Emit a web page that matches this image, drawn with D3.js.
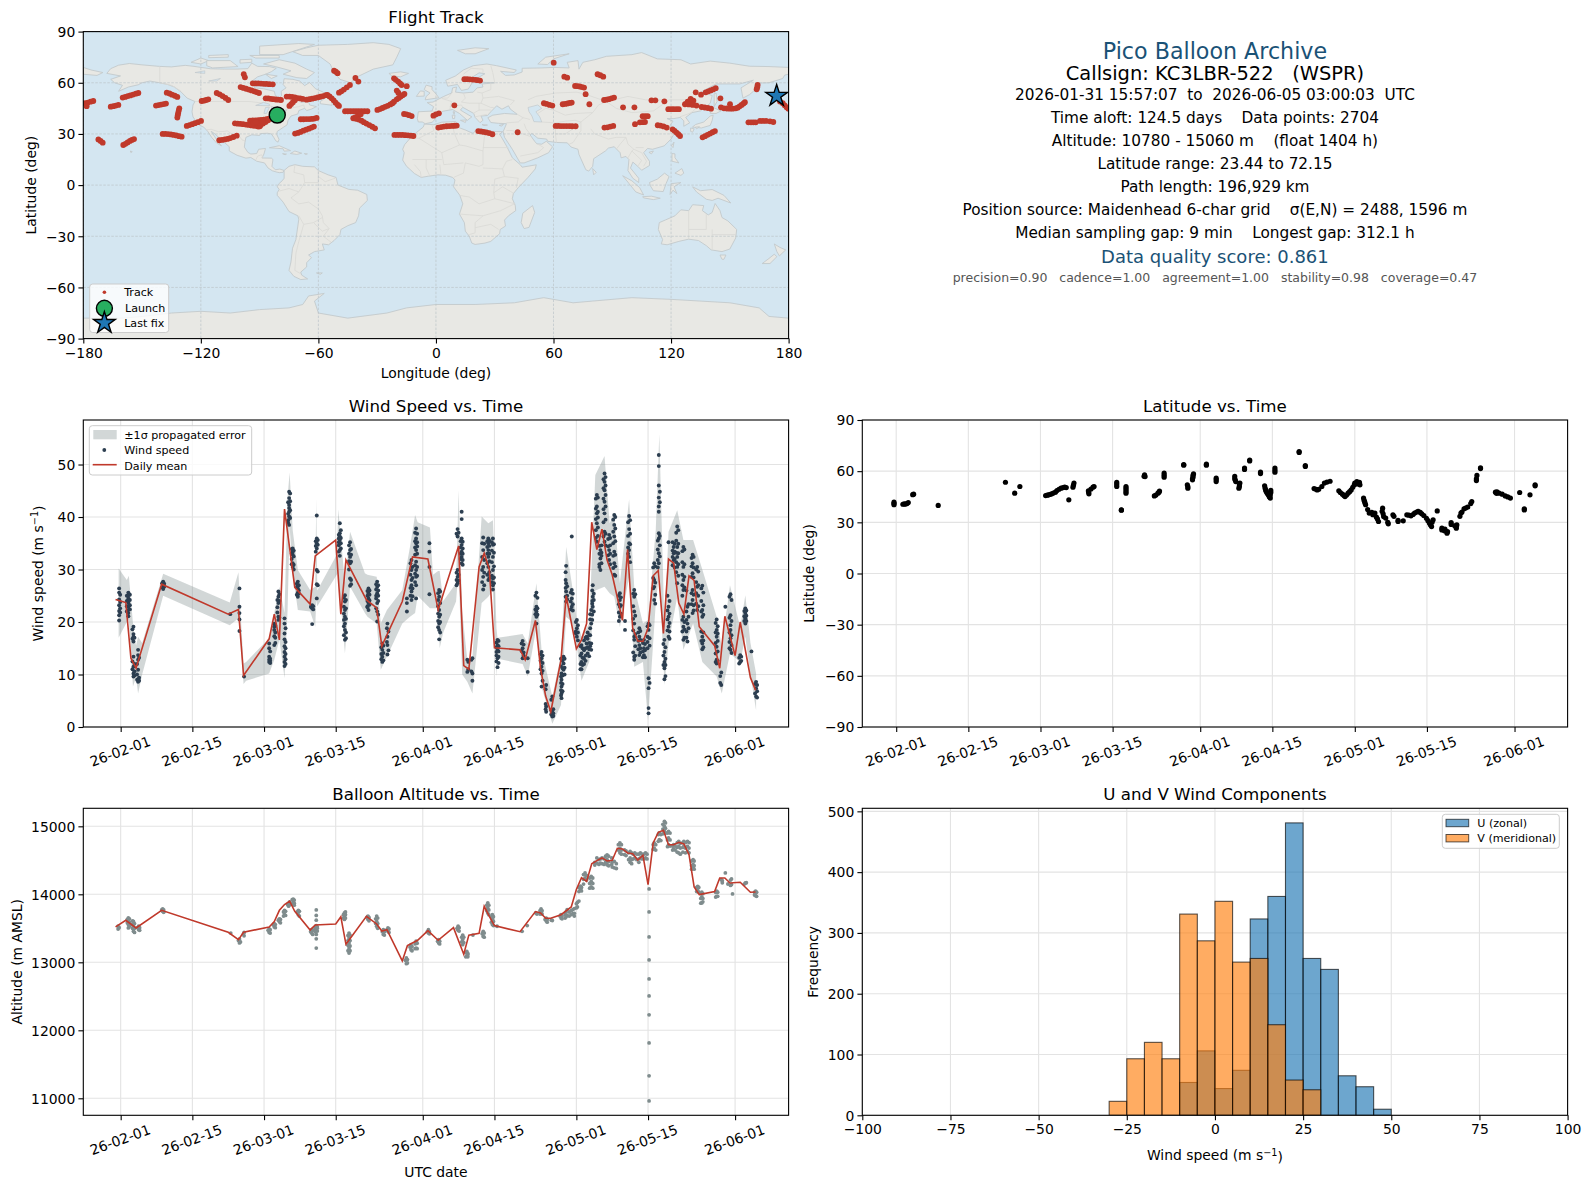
<!DOCTYPE html>
<html>
<head>
<meta charset="utf-8">
<title>Pico Balloon Archive</title>
<script src="https://cdn.jsdelivr.net/npm/d3@7"></script>
<style>
	body { margin: 0; background: #fff; }
	text { font-family: "DejaVu Sans", sans-serif; fill: #000; white-space: pre; }
</style>
</head>
<body>
<svg id="chart" width="1590" height="1189"></svg>
<script>
// Day offsets below are days since 2026-02-01 UTC
var dateTicks = ["2026-02-01","2026-02-15","2026-03-01","2026-03-15","2026-04-01","2026-04-15","2026-05-01","2026-05-15","2026-06-01"];

// Summary text on the top right
var summaryLines = [
	"2026-01-31 15:57:07  to  2026-06-05 03:00:03  UTC",
	"Time aloft: 124.5 days    Data points: 2704",
	"Altitude: 10780 - 15060 m    (float 1404 h)",
	"Latitude range: 23.44 to 72.15",
	"Path length: 196,929 km",
	"Position source: Maidenhead 6-char grid    \u03c3(E,N) = 2488, 1596 m",
	"Median sampling gap: 9 min    Longest gap: 312.1 h"
];

// Flight track as [lon, lat]
var launchFix = [-81, 41.1];
var lastFix = [173.9, 52.3];
var trackPoints = [
	[-179.1,48],[-177.7,48.4],[-176.3,48.9],[-174.9,49.3],[-178.3,46.3],
	[-166,46],[-164.7,46.3],[-163.4,46.6],[-162.1,47],
	[-159.9,51.3],[-158.6,51.7],[-157.3,52.2],[-156,52.6],[-154.6,53.1],[-153.2,53.6],[-151.9,54],
	[-142.9,46.6],[-141.6,46.9],[-140.3,47.2],[-139,47.5],[-137.8,47.8],
	[-137.4,54.2],[-136,53.7],[-134.7,53],[-133.3,52.4],[-132,51.7],
	[-131,45],[-131.3,43.6],[-131.6,42.2],[-131.8,40.9],[-132,39.6],
	[-127.2,34.7],[-125.8,35.2],[-124.4,35.7],[-123,36.3],[-121.5,36.9],[-119.9,37.6],
	[-119.6,49.3],[-118.5,49.5],[-117.3,49.9],[-116.2,50.3],
	[-111.9,54],[-110.4,53.2],[-108.9,52.2],[-107.4,51.1],[-106,49.9],
	[-139.5,30],[-138.1,30],[-136.7,29.9],[-135.3,29.7],[-133.9,29.4],[-132.5,29.1],[-131.1,28.7],[-129.8,28.4],
	[-172.3,26.8],[-171.2,25.9],[-170.1,24.9],
	[-159.6,23.5],[-158.5,24.2],[-157.4,25],[-156.2,25.9],[-155.2,26.5],[-154.1,27],
	[-110.6,26.3],[-109.2,26.5],[-107.8,26.8],[-106.4,27.1],[-105,27.6],[-103.4,28.2],[-101.7,29],
	[-102.6,36.2],[-101.2,36],[-99.8,35.9],[-98.4,35.7],[-97,35.5],[-95.6,35.3],[-94.2,35],[-92.8,34.8],[-91.3,34.6],[-89.9,34.5],
	[-94.9,37.8],[-93.5,37.9],[-92.1,38],[-90.7,38.1],[-89.3,38.2],[-87.9,38.4],[-86.5,38.6],[-85.2,38.9],[-83.9,39.2],
	[-90.7,34.3],[-89.5,35.2],[-88.3,36.1],[-87,37],[-85.7,38],[-84.4,39.2],[-93,36.5],[-91.5,36.6],[-90,36.5],[-88.5,37],[-92,37],
	[-99.7,57.5],[-98.3,57],[-96.9,56.5],[-95.5,56],[-94.1,55.5],[-92.7,55],[-91.5,54.5],[-90.3,54],
	[-93.5,59.7],[-92.1,59.6],[-90.7,59.6],[-89.3,59.5],[-87.9,59.4],[-86.5,59.3],[-85,59.2],[-83.3,59.1],
	[-86.9,50.9],[-85.6,50.8],[-84.3,50.6],[-83,50.4],[-81.7,50.2],[-80.4,50.1],[-79.1,49.9],
	[-98.1,65],[-97.5,63.2],
	[-76.2,51.9],[-74.8,51.9],[-73.4,51.7],[-72,51.4],[-70.6,51],[-69.3,50.8],[-68,50.5],
	[-74.8,46.4],[-73.9,47.5],[-73,48.6],[-72,49.8],
	[-66,50.1],[-64.6,50.4],[-63.2,50.7],[-61.8,51],[-60.4,51.4],[-59,51.8],[-57.6,52.2],[-56.2,52.7],[-55.4,52.9],[-54.3,52],[-53.2,50.9],[-52.2,49.7],[-51.2,48.3],[-50.2,47.1],[-49.5,46.4],
	[-52,67.1],[-51.1,66.5],[-50.2,65.6],
	[-49.5,54.2],[-48.3,55],[-47,56],[-45.5,57.3],[-43.9,58.7],
	[-41.1,62.8],[-39.6,60.7],
	[-21.4,62.6],[-20.5,61.7],[-19.3,60.7],[-18.3,59.6],[-17.5,58.7],
	[-14.9,58],[-20,55.4],[-19.2,54.2],
	[-20,50.3],[-19,51.1],[-18,51.9],[-17,52.7],[-16.1,53.4],
	[-29.9,44.1],[-28.6,44.6],[-27.3,45.2],[-26,45.9],[-24.7,46.5],[-23.3,47.3],[-22.2,48],[-21.4,48.9],
	[-46.4,43.3],[-45,43.3],[-43.6,43.3],[-42.2,43.3],[-40.8,43.3],[-39.4,43.3],[-38,43.3],[-36.5,43.3],[-35,43.3],
	[-42.2,39.2],[-41,39.8],[-39.8,40.6],[-38.4,41.6],
	[-40.8,38.9],[-39.4,38.4],[-38,37.8],[-36.8,36.9],[-35.5,36.1],[-34,35.2],[-32.5,34.2],[-31.1,33.3],
	[-69,38.6],[-67.6,38.6],[-66.2,38.7],[-64.8,38.7],[-63.4,38.8],[-62.1,39],[-60.9,39.4],
	[-71.9,30.2],[-70.5,30.6],[-69.1,31.2],[-67.7,31.9],[-66.3,32.5],[-64.9,33.1],[-63.5,33.7],[-62.3,34.3],
	[-21.2,29.4],[-19.8,29.4],[-18.4,29.4],[-17,29.4],[-15.6,29.3],[-14.2,29.2],[-12.8,29],[-11.5,28.8],
	[-16.3,41.7],[-15,41.5],[-13.7,41],[-12.4,40.5],
	[-1.3,40.7],[0,41.5],[1.5,42.1],
	[1.2,33.7],[2.6,34],[4,34.3],[5.4,34.5],[6.8,34.6],[8.2,34.7],[9.5,34.8],[10.6,34.9],
	[21.6,31.7],[23,31.5],[24.4,31.2],[25.8,30.9],[27.2,30.5],[28.8,29.8],
	[41.7,31],[9.4,46.8],
	[14.5,62.1],[15.9,62.1],[17.3,62],[18.7,61.9],[20.1,61.7],[21.3,61.5],[22.5,61.3],
	[60.1,71.8],[65.5,63.6],[67,63],
	[71,58.1],[72.2,58],[73.4,57.8],[74.6,57.5],[75.6,57.2],[76.4,53.3],
	[82.5,65],[83.9,64.4],[85.4,63.6],
	[55.1,48],[56.5,47.6],[58,47],[59.4,46.6],
	[64.7,47.4],[66,47.6],[67.2,47.9],[68.3,48.2],[69.3,48.4],[78.3,47.4],
	[85.8,49.9],[87,50.1],[88.2,50.4],[89.6,50.9],[90.9,51.3],
	[95.5,45.6],[101.3,45.6],[110,49.7],[112,49.7],[116.6,49.1],
	[61.1,34.7],[62.5,34.7],[63.9,34.6],[65.3,34.6],[66.7,34.6],[68.1,34.6],[69.5,34.5],[71.3,34.5],
	[86,33.7],[87.5,33.9],[89,34.3],[90.5,34.7],
	[101.6,35.7],[104.1,36.8],[105.4,36.9],[106.7,37],[105.5,40.4],[106.8,40.4],[108.1,40.4],
	[113.2,35.1],[114.6,34.9],[116.2,34.4],[117.8,33.7],
	[120.8,32.7],[121.8,31.8],[122.8,30.8],[123.7,29.8],[124.6,28.8],
	[118.6,44.5],[120,44.5],[121.3,44.5],[122.7,44.5],[124,44.5],
	[127.1,47.4],[128.2,48],[129.3,48.6],[130.4,49],[131.4,49.5],[129,47.3],[131,47],[133,46.6],[128.5,49],[130,50.5],
	[132.6,54.4],[135.3,53],
	[137.7,54.4],[139,55],[140.2,55.5],[141.5,56.1],[142.8,56.8],[145.2,50.9],
	[135.6,45.8],[137.2,45.5],[138.8,45.2],[140.4,44.8],
	[145.5,45.6],[147,45],[148.5,44.9],[150,44.8],[151.5,44.8],[153,45],[154,45.4],[155,46.2],[156,47],[157,47.9],[157.7,48.6],[150.1,47.4],
	[164.2,58.7],[164,57.4],[163.7,56.2],
	[136.1,28],[137.3,28.7],[138.6,29.5],[139.9,30.2],[141.2,31],[142.4,31.7],
	[159.5,36.8],[160.8,36.8],[162,36.8],[163.2,36.8],
	[165.4,37.6],[166.9,37.6],[168.5,37.6],[170.5,37.4],[172.2,37],
	[175.6,49],[177,48],[178,46.8],[179,45.6],[179.9,44.8]
];

// Simplified base map, [lon, lat] rings
var landRings = [
	[[-168,65.5],[-166,68.3],[-162,70.3],[-156.5,71.3],[-150,70.5],[-141,69.6],[-135,69.3],[-128,70.2],[-124,69.7],[-115,68.2],[-108,68],[-102,68],[-96,68.3],[-94,71.5],[-91,69.6],[-85,69.5],[-81.5,68.5],[-84,66.5],[-87,65],[-91,63.5],[-94.5,60.5],[-92.5,57],[-88,56.5],[-82.5,55],[-82,52.5],[-80,51.2],[-78.8,52.5],[-79,55],[-76.5,57],[-78,59],[-77.5,62.4],[-73,62],[-69.5,61],[-67,58.3],[-64.5,60.2],[-61.5,56.5],[-57.5,54.5],[-56,52],[-60,50.2],[-66,50.2],[-69,48.5],[-65,49],[-64.5,47],[-61,46],[-63.5,44.6],[-66,43.7],[-67,45],[-70,43.7],[-70.5,41.7],[-74,40.5],[-75.5,38],[-76,35.3],[-78,33.8],[-81,31.5],[-81.3,29.8],[-80.1,26.8],[-80.6,25.2],[-81.8,26],[-82.8,28],[-84,30],[-86,30.4],[-89.5,30.2],[-90,29.1],[-94,29.5],[-97,28],[-97.5,25],[-97.8,22.3],[-96,19.2],[-94.5,18.2],[-91.5,18.5],[-90.5,21],[-87,21.5],[-87.8,18.2],[-88.8,15.9],[-84,15.8],[-83.2,15],[-83.7,11],[-82,9],[-79.7,9.4],[-77.5,8.6],[-78,7.5],[-80,7.3],[-81.5,7.7],[-83.5,8.4],[-85.7,10],[-87.5,13],[-91.5,14],[-94.5,16.2],[-97,15.8],[-101.5,17.5],[-105.5,20],[-105.5,22.5],[-108,25],[-110,27],[-112.8,30],[-114.7,31.5],[-113,28.5],[-111,25],[-109.5,23],[-112,24.7],[-114.5,28],[-116.5,31.5],[-118.5,34],[-120.7,35],[-122.5,37.5],[-124,40],[-124.5,43],[-124,47],[-123,49],[-127,51],[-130,54.5],[-133.5,57.5],[-137,59],[-141,60],[-146,61],[-150,60],[-152,58.8],[-157,57.5],[-162,55],[-160,58.5],[-164,60],[-166,62],[-161,64]],
	[[-80,73.5],[-72,71.5],[-66,68],[-62,66],[-66,62.5],[-71,63],[-78,65],[-74,67],[-82,69.5],[-88,71]],
	[[-125,72],[-120,74.5],[-116,73],[-120,71]],
	[[-117,73],[-105,73],[-101,69.5],[-114,68.7],[-117,70]],
	[[-90,76.5],[-78,76.5],[-62,82.5],[-70,83],[-90,81.5]],
	[[-95,76],[-80,76],[-80,74.5],[-92,74.5]],
	[[-100,73.5],[-94,73.8],[-94,72],[-100,71.5]],
	[[-116,76],[-106,76.5],[-106,75],[-116,74.7]],
	[[-59,47.7],[-53,46.8],[-53,49],[-56,51.5],[-59,49]],
	[[-87,65],[-81,64],[-84,62.5]],
	[[-73,78.2],[-68,76],[-60,76],[-54,71],[-52,66],[-49,62],[-43.5,60],[-41,63],[-32,68],[-22,70.5],[-20,75],[-18,80],[-24,82.5],[-32,83.5],[-45,82.5],[-60,82],[-66,80.5]],
	[[-24,65.5],[-18,66.4],[-14,65.5],[-18,63.5],[-22.5,64]],
	[[-85,21.9],[-80,23.1],[-74.2,20.2],[-77.5,19.9],[-78,21.3]],
	[[-74.3,18.5],[-72,20],[-68.5,18.7],[-71,18]],
	[[-78.3,18.4],[-76.3,18.2],[-77,17.8]],
	[[-67.2,18.5],[-65.6,18.3],[-66.5,17.9]],
	[[-156,20],[-155,19.6],[-155.7,19]],
	[[-77.5,8.6],[-75,11],[-72,12],[-68,11],[-62,10.7],[-60,8.5],[-55,6],[-51,4.5],[-50,0],[-44.5,-2.5],[-40,-3],[-35.3,-5.5],[-35,-9],[-39,-13.5],[-39.5,-18],[-41,-22],[-45,-23.8],[-48.5,-26],[-49,-29],[-52,-32.5],[-54.8,-35],[-58,-34.5],[-57,-38],[-62,-39],[-65,-41],[-63.5,-42.5],[-66,-45.5],[-66,-48],[-69,-51],[-68.5,-52.8],[-65.5,-55],[-69,-55.4],[-72.5,-53.5],[-75,-50],[-74,-45],[-73.5,-40],[-73.2,-37],[-71.5,-32],[-71,-28],[-70,-20],[-70.5,-18],[-75,-15.5],[-78,-10],[-81,-6],[-81,-4.5],[-80,-2.5],[-81,-1],[-80,1],[-78.5,2.5],[-77.5,4],[-77.5,7]],
	[[-61,-51.5],[-58,-51.5],[-59,-52.3]],
	[[-5.9,35.8],[-1,35.4],[3,36.9],[10,37.3],[11,34],[15,32.3],[19,30.3],[20.5,32.7],[25,31.7],[31,31.4],[34,31.3],[32.5,29.8],[34,27],[36,23],[37.3,20],[39,16],[43,12],[44,10.5],[51.2,11.9],[50.7,9.5],[47,4.5],[42,-1.5],[39.5,-5],[39,-8],[40.5,-12],[40.7,-15],[37,-18],[35,-20.5],[35.5,-24],[32.8,-26],[32.5,-28.5],[28,-33],[25,-34],[20,-34.8],[18.3,-34],[17,-30],[15,-27],[14.5,-22],[12,-17],[13.7,-11],[12.2,-6],[9,-1],[9.7,3],[8.5,4.5],[5,5.8],[1,6],[-4,5.2],[-7.5,4.5],[-11,6.8],[-13.5,9.5],[-15,11],[-17,14.7],[-16.2,19],[-17,21],[-16,23.7],[-13,27.7],[-9.8,31],[-6.5,34]],
	[[49.3,-12],[50.4,-16],[47.5,-24.8],[45,-25.5],[43.5,-22],[44.3,-16.5]],
	[[-9,37],[-9.5,39],[-9,43],[-2,43.4],[-1.2,46],[-4.5,48.4],[-1.5,48.7],[1.5,50.5],[4,52],[8,54],[8.5,57],[10.5,57.5],[10,54.5],[14,54],[19,54.5],[21,57],[24,57.5],[23.5,59.3],[30,60],[25,60.2],[21.5,61],[21.5,63],[25,65.3],[22,65.8],[17.5,62.5],[18.5,60],[16.5,56.3],[13,55.5],[11,59],[6,58],[5,61.5],[10,64],[14,67.5],[19,70],[26,71],[31,70],[41,67.5],[40,66],[33,66.7],[35.5,64.3],[40,64.6],[44,66.3],[44,68.5],[54,68.7],[60,69],[68,68.7],[67,72],[72.5,73],[73,68],[75,72],[81,73.5],[87,75.5],[100,76.5],[105,77.7],[113,74],[125,73.5],[130,71],[140,72.7],[150,71.5],[160,69.7],[170,69.5],[180,69],[180,65],[178,64.5],[177,62.5],[170,60],[163,59.8],[163,56],[160,53],[156.7,51],[155.7,57],[162,61.5],[155,59.3],[143,59.3],[135.5,54.7],[141,52.5],[140,48],[135,43.5],[130.7,42.5],[127.5,39.7],[129.5,36.5],[126.5,34.5],[126.5,37.7],[124.7,39.7],[121.5,39],[118,39],[121,37.5],[119.5,35],[122,31],[120,27],[116.5,23],[110.5,21],[108,21.5],[106,19],[109,14],[109,11.5],[105,8.7],[103,11],[100.5,13.5],[99.3,10],[103.5,4],[103.5,1.5],[100.5,4],[98,8.5],[98.5,15],[97,16.8],[94.5,16],[94,19],[91,22.5],[88,21.7],[86.5,20],[80.5,15.5],[80,11],[78,8.2],[76.5,9],[73,18],[72.5,21],[69,22.3],[67,24.8],[61.5,25],[57,25.7],[56.5,27],[52,27.5],[49,30.3],[48,29.5],[50.5,25.5],[51.5,24.2],[54,24],[56.3,25.7],[59.5,22.5],[57.5,19],[52,16],[45,13],[43,13],[39,21],[35,28],[34.3,31.3],[36,36],[32,36.2],[28,36.7],[26.5,39.5],[29,41],[35,42],[41.5,41.5],[38,44.5],[37,46.5],[33.7,44.5],[31,46.5],[28,43],[26.3,40.8],[23,40.5],[24,38],[22.5,36.6],[20,39.7],[19.3,42],[13.7,45.6],[12.5,44],[18.3,40],[16,38],[12,42],[8.5,44.3],[3.5,43.3],[0.5,40.5],[-0.5,38.5],[-2,36.8],[-5.5,36],[-7,37]],
	[[-180,69],[-176,67.5],[-170,66],[-173,64.3],[-180,65]],
	[[-5.5,50],[1.5,51.2],[0,53.5],[-2,56],[-2,57.7],[-5,58.6],[-6,56],[-3,54],[-5,52]],
	[[-10,52],[-6,52.2],[-6,55],[-8,55.2]],
	[[12.5,38],[15.5,38.2],[15,36.7]],
	[[8.3,41],[9.7,41],[9.5,39],[8.5,39]],
	[[8.7,43],[9.5,43],[9.3,41.5]],
	[[23.5,35.5],[26.3,35.2],[24.5,34.9]],
	[[32.3,35],[34.5,35.6],[33.5,34.6]],
	[[11,79],[20,80.5],[27,80],[20,77],[15,77]],
	[[52,71],[56,75],[68,77],[60,74],[57,70.7]],
	[[130.9,34],[135.5,33.5],[140,35],[141,38],[141.5,41],[140,40.5],[136.7,37],[132.5,35.5]],
	[[140,42],[141.5,45.5],[145.5,43.5],[143,42]],
	[[130,33.5],[131.8,33],[131,31],[130,31.5]],
	[[132.5,34],[134.5,34.2],[133,33]],
	[[142,46],[143.5,49],[143,54],[142,53.5],[142,49]],
	[[120.2,23],[121.5,25.2],[121,22]],
	[[108.7,19.2],[111,20],[110,18.3]],
	[[120.5,18.5],[122,18.3],[122,16],[124,13],[120.5,14]],
	[[122,7],[125.5,9.7],[126.5,7],[125,5.7]],
	[[80,9.7],[81.8,7.5],[80.5,6]],
	[[95.3,5.5],[100,2.5],[104,-1.5],[106,-5.8],[102,-4],[98.5,1]],
	[[105.5,-6.8],[110,-6.5],[114.5,-7.7],[111,-8.5],[106,-7.5]],
	[[109,1.5],[113,3.5],[116.7,7],[119,5],[117.5,1],[116,-3.8],[111,-3.3],[109.5,-0.5]],
	[[119.5,-5.5],[120,0.8],[125,1.5],[121.5,-1],[123,-5],[121,-3]],
	[[131,-1],[135,-3.3],[141,-2.6],[147,-6],[150.5,-10.5],[144,-7.7],[141,-9],[138,-8.3],[133,-4]],
	[[114,-22],[113.5,-26],[115.7,-32],[115,-34.5],[118,-35],[124,-33],[129,-31.7],[134,-32.5],[138,-35.5],[140.5,-38],[146,-39],[150,-37.5],[153,-31],[153.5,-26],[149,-21],[146,-19],[145,-15],[142.5,-10.8],[141,-16],[139,-17.5],[136,-15],[136.7,-12],[131,-11.5],[129,-15],[125,-14.5],[122,-18],[117,-20.5]],
	[[145,-41],[148,-41],[147,-43.5],[146,-43.5]],
	[[172.7,-34.5],[175.5,-36.5],[178.5,-38],[175.3,-41.5],[174,-39]],
	[[172.7,-40.5],[174,-42],[170.5,-46],[166.5,-46],[170,-43]],
	[[-180,-90],[180,-90],[180,-78],[170,-77],[165,-72],[150,-69],[120,-67],[100,-66],[80,-68],[70,-69],[55,-66],[40,-69],[20,-70],[0,-70],[-15,-72],[-25,-75],[-45,-78],[-60,-75],[-62,-68],[-57,-63.5],[-65,-65],[-68,-70],[-75,-72],[-90,-73],[-105,-75],[-120,-74],[-135,-75],[-150,-77],[-160,-78],[-180,-78]]
];
var waterRings = [
	[[47,45.5],[52,47],[54,45],[51,43],[53,40],[54,37],[50,37.2],[49,40.5],[47.5,43]],
	[[-92,46.7],[-88,48.5],[-85,47.5],[-85,46.5]],
	[[-87.8,42],[-86.5,42],[-85,45.7],[-87,45.5]],
	[[-84,46],[-80,45],[-81.7,43],[-83.5,43.8]],
	[[-83.3,41.6],[-79,42.8],[-80,42.4]],
	[[-79.5,43.4],[-76.3,44],[-76.5,43.4]],
	[[-123,66],[-118,67],[-118,65.5]],
	[[-116,61],[-110,62.5],[-112,61]]
];
var borderLines = [
	[[-123,49],[-95,49],[-88,48],[-82.5,45.5],[-82.5,42.5],[-79,43],[-75,45],[-70,46],[-67.5,47],[-67,45]],
	[[-141,69.6],[-141,60]],[[-141,60],[-135,58.5],[-130,55]],
	[[-117,32.5],[-114.7,32.7],[-111,31.3],[-108,31.5],[-106.5,31.8],[-103,29],[-101,29.8],[-99,26.5],[-97.3,25.9]],
	[[-92,14.6],[-91,17],[-89,17.8],[-88.2,15.8]],
	[[-72,12],[-72.5,7.5],[-67.5,6],[-67,1.5],[-70,-4],[-74,-7.5],[-70,-11],[-65,-10],[-60,-14],[-58,-18],[-57.5,-22],[-54.5,-25.5],[-57.5,-30],[-53.5,-33.5]],
	[[-60,8.5],[-60,5],[-56.5,2],[-51.5,4]],[[-60,5],[-60,1.5],[-67,1.5]],
	[[-70,-18],[-67.5,-23],[-70,-33],[-71.5,-40],[-72,-50],[-69,-52]],
	[[-80,-3.5],[-75,-2],[-70,-4]],[[-67.5,-23],[-62.5,-22],[-58,-19]],[[-62.5,-22],[-58,-27],[-54.5,-25.5]],
	[[-13,27.7],[-8.7,27.5],[-1,32],[-2,35]],[[-8.7,27.5],[3,19],[12,23.5],[9.5,30],[8,37]],
	[[12,23.5],[15,23],[24,20],[25,31.7]],[[24,20],[24,12],[22,11],[15,13],[14,7],[9,4.5]],
	[[24,22],[37,22]],[[24,10],[34,9.5],[36,14],[39,15]],[[34,9.5],[35,5],[42,4],[41,-1.5]],
	[[35,5],[30,3.5],[29.5,-4.5],[34,-1],[39.5,-4.7]],[[29.5,-4.5],[30,-8],[40.5,-11]],
	[[12,-6],[17,-7],[22,-11],[30,-8]],[[12,-17],[24,-18],[33,-15],[40,-11]],
	[[24,-18],[20,-22],[20,-28],[17,-29]],[[20,-25],[28,-23],[32,-26]],
	[[3,19],[4,12],[14,13]],[[-12,15],[-5,15],[3,15]],[[-5,15],[-5,10],[-3,5]],[[2,12],[2.5,6.5]],[[-11,12],[-8,8],[-7.5,4.5]],
	[[-1.8,43.3],[3,42.5]],[[3,50.8],[8,49],[7,44]],[[7,46],[13,47],[13.7,45.6]],[[8.5,54.5],[6,51],[3,51]],
	[[14,54],[15,51],[13,48.7],[17,48],[23,48],[24,51],[23.5,54],[21,54.5]],[[23.5,54],[28,56],[28,59.5]],
	[[24,51],[32,52],[40,49.5],[38,47]],[[23,48],[28,45.5],[29.5,45.5]],[[22,44],[28,44]],[[19,42],[22,44],[22,48]],[[20,40],[26,41.5]],
	[[30,60],[29,66],[28,70]],[[14,65],[18,68.5],[24,68],[24,66]],
	[[36,36.5],[42,37],[44.5,39.5],[41.5,41.5]],[[44.5,39.5],[48,38.5]],[[45,36],[46,33],[48,30]],
	[[54,37],[61,36.5],[61,30],[61.5,25]],[[61,36.5],[66,37.5],[71,38],[74,37]],[[61,30],[66,30],[70,33],[74,37]],
	[[74,37],[74,32],[70,25],[68,24]],[[79,33],[81,30],[88,27],[92,28],[97,28],[94,24],[92,21]],
	[[97,28],[98,24],[101,21],[100,20],[98,16]],[[101,21],[105,19],[107.5,14],[106,11]],[[100,20],[105,14.5],[103,11]],[[106,22],[102,22]],
	[[87,49],[92,45],[100,42.5],[111,43.5],[116,47.5],[119,50],[127,50],[135,48],[131,43],[130,42.5]],
	[[87,49],[98,52],[107,50],[117,50]],[[47,50],[51,52],[61,54],[72,54.5],[77,53],[87,49]],
	[[52,42],[56,45],[60,44],[66,41],[71,42],[80,42.5],[83,47],[87,49]],[[74,37],[80,42.5]],
	[[36,32],[39,32],[47,29],[48,28.5]],[[43,17],[45,17.5],[52,19],[55,22],[52,24]],[[124.5,40],[130.5,42.5]],
	[[129,-15],[129,-31.7]],[[138,-17],[138,-26],[129,-26]],[[141,-26],[141,-38]],[[141,-29],[153,-29]]
];

// Wind speed columns as [day, [m/s ...]]
var windColumns = [
	[-0.3,[26.4,25.6,24.3,23.2,22.1,21.3,20.3]],
	[1.5,[25.6,25.1,24.5,24.1,23.6,22.9,22.3,21.7,21.1]],
	[2.5,[19.1,17.7,17.2,16.3,13.4,11.5,10.2,9.6]],
	[3.4,[14.7,13.7,12.8,10.9,9.1,8.6]],
	[8.3,[27.7,27,26.3]],
	[21.4,[21.5]],
	[23.2,[26.4,22.9,21.7,20.5,18.3]],
	[24.1,[9.6]],
	[29,[15.9,15,13.4,12.8,12.4]],
	[30,[19.7,19.1,18.5,17.3,15.6]],
	[30.8,[25.8,24.8,23.6,21,20.4]],
	[32,[20.7,19.7,17.8,16.7,15.4,14.3,13.4,12.4,11.6]],
	[32.9,[44.8,43.6,42.3,41.7,41,40.1,38.5]],
	[33.6,[34,33.4,32.8,31.2,30.5]],
	[34.6,[27.7,27,26.4,25.6,24.8]],
	[37.4,[23.2,22.6,19.6]],
	[38.3,[40.3,35.9,35,34,29.9,27.2,24.5]],
	[42.8,[38.8,36.9,36.3,35.6,33.7,32.6]],
	[43.8,[25.1,23.9,22.3,21,19.7,18.5,16.6]],
	[44.8,[35.2,33.7,32.4,31.2,28.3,26.9]],
	[48.4,[26.4,25.5,24.5,23.6,22.3]],
	[50.1,[27.7,26.7,25.5,23.6,22,20.1]],
	[51.1,[15.9,14.7,13.4,12.4]],
	[52.1,[19.7,17.2,15.6,13.8]],
	[55.9,[24.5,23.6,22]],
	[56.8,[31.8,29.9,28,27,25.8,24.2]],
	[57.7,[37.8,35.9,35,33.7,31.5,29.9,28.6,27,24.5]],
	[60.3,[35,33.4,30.5,25.3]],
	[62.2,[26.1,24.8,22.3,21,19.7,18.5,16.7]],
	[65.8,[37.7,36.3,29.9,28.6,27.4]],
	[66.6,[41,39.6,35.9,34.7,33.4,32.4,31.2]],
	[67.7,[12.8,10.5]],
	[68.7,[13.1,10.2,8.8]],
	[70.8,[36.1,33.7,30.5,28.6,26.2]],
	[71.8,[35.9,35,33.7,32.4,30.5,28]],
	[72.7,[35.9,34.7,32.4,29.9,28.3,27,26.2]],
	[73.6,[16.6,15.6,14.7,13.1,11.4]],
	[78.5,[16.4,15,13.1]],
	[79.5,[13.1,10.5]],
	[81.2,[25.6,22.9,22,21,19.7]],
	[82.2,[14.3,13.1,11.5,10.2,7.7]],
	[83.1,[8,3.9,2.9]],
	[84.3,[5.8,2.9,2]],
	[86.1,[10.2,9,7.7,6.4,5.5]],
	[86.5,[13.4,12.1,10.9]],
	[87,[30.7,27.4,25.8,23.9]],
	[88.1,[36.3,26.1,24.5,22.9]],
	[89.1,[20.4,18.8,17.2]],
	[90,[15.6,14,12.4,11]],
	[91,[17.2,15.9]],
	[91.9,[22.3,19.7,15.9,14.7]],
	[92.2,[27,24.8,22.9]],
	[93,[44.2,42,40.7,38.8,35.3]],
	[93.7,[33.7,32.1,29.9]],
	[94.5,[48.3,46.7,45.1,42.9,40.7,37.2,35.3]],
	[95.4,[36.6,33.7,31.8]],
	[96.4,[40.4,38.5,36.3,33.4,31.2,29]],
	[97.5,[25.5,24.2,22.9,21]],
	[98.5,[20.2,18.5]],
	[99.3,[40.2,37.7,35,33.7,32.4]],
	[100.3,[26.1,24.8,22,19.7,17.2,16.6,13.4,12.8]],
	[101.3,[18.8,17.2,15.6,13.7]],
	[102.2,[16.6,15,13.7]],
	[103.1,[19.7,18.5,9.3,7.4,3.6,2.6]],
	[104.2,[31.2,28,26.7,24.2]],
	[105.1,[51.8,49.7,46,43.7,42,41,36.9,35.9,33.1,31.2]],
	[106.2,[16.6,14.3,12.4,11.2,9.1]],
	[107,[35.2,22.9,21,19.1,17.2]],
	[108,[34.3,33.1,31.8]],
	[108.7,[38.2,34.3,32.4,30.5,27.4]],
	[109.9,[34.3,30.5,28,26.1,21,19.1,16.6]],
	[110.7,[22.9,19.7,16.3]],
	[111.7,[32.8,31.2,29.3,26.1,24.2,21.7]],
	[112.6,[30.5,26.7,22.3]],
	[113.6,[26.9,22.3,21,17.2,15.9,14.8]],
	[116.4,[20.5,18.5,17.2,15.3,12.8,12.1]],
	[117.3,[10.4,8]],
	[118.1,[22.9]],
	[119.1,[25.3,21.3,19.4,18.5,16.9,14.7]],
	[121,[13.7,12.4]],
	[122,[22.6,21.7,20.7,19.7]],
	[123.2,[14.4]],
	[124.1,[8.6,7.4,5.8]]
];
// Second pass over the crowded stretches
var windColumnsDense = [
	[-0.1,[25.2,23.8,22.6,21.8]],[1.2,[25,24,23,22]],[1.8,[25.2,24.2,23.2,22.4]],
	[2.3,[18.6,16.8,12.5,11]],[2.7,[17,12,10.6,9.8]],[3.2,[12,10,9]],[3.6,[9.4,8.8,13.2]],
	[8.1,[27.4,26.6]],[8.5,[27.3,26.7]],
	[29.2,[14.4,13,12.6,12.2]],[30.2,[19.3,18,17,16]],[30.6,[24.2,22.8,21.8]],[31,[25.3,24,20.8]],
	[32.2,[18.8,16.2,15,13.9,12.9,12]],[32.7,[42.8,40.6,39.4,38.9]],[33.1,[44.5,43,41.3,39.8]],
	[33.4,[33.9,33,32,31]],[33.8,[33.6,32.5,30.9,30]],[34.4,[27.3,26.6,25.2]],[34.8,[27,26,25.4]],
	[37.2,[23,22.8]],[37.6,[23,22.4]],[38.1,[35.4,34.5,33.4]],[38.5,[35.6,34.7,29.6,27]],
	[42.6,[36.6,35.9,35.2,34.6,33.4]],[43,[37.5,36,35,34]],[43.6,[24.6,22.9,21.6,20.4,19.2,17.5]],[44,[24.2,22.6,20.6,18,16.9]],
	[44.6,[34.6,33,31.6,30]],[45,[33.9,32.8,31.5,28,27.2]],
	[48.2,[25.9,25,24,23,22.8]],[48.6,[26,25.2,24.1,23.3]],[49.9,[27.2,26.2,25,24.5,22.6]],[50.3,[27,26,25,24,21.4]],
	[50.9,[15.2,13.9,12.9]],[51.3,[15.5,14.1,12.7]],[52,[18.8,16.2]],[52.3,[18.2,14.6]],
	[56.6,[31.2,29,26.5,25]],[57,[30.5,28.4,26.4,24.9]],[57.5,[37,35.4,34.2,32.8,30.8,29.2,27.6]],[57.9,[36.8,35.2,34.4,33,30.5,28.8]],
	[62,[25.5,24.2,23,21.6,20.2,19]],[62.4,[25.8,23.6,21.4,20,18]],
	[65.6,[36.8,29.4,28,27]],[66,[37,29,27.9]],[66.4,[35.4,34.2,33,32]],[66.8,[35.3,34,33,31.8,30.9]],
	[67.9,[12.4,11]],[68.5,[12.8,10.6]],
	[70.6,[35,32.4,29.9,27.6]],[71,[34.9,31.8,29.4,27]],[71.6,[35.4,34.3,33,31.2,29]],[72,[35.5,34.5,33,31.6,29.5,28.4]],[72.5,[35.2,33.6,31.4,28.8,27.6]],[72.9,[34.8,33.2,30.6,28.5,27.4]],
	[73.4,[16.1,15.2,14.3,13.6,12.5]],[73.8,[16.4,15.4,14.4,13.4,12.2]],
	[78.3,[15.9,14.5]],[78.7,[15.7,14.2,13.6]],[81,[25,22.4,21.5]],[81.4,[24.6,22.6,21.4]],
	[82,[13.8,12.6,11]],[82.4,[13.6,12.2,10.7,8.8]],[83,[7.2,4.4,3.4]],[84.1,[5.2,3.2,2.4]],[84.5,[3.4,2.6,2.1]],
	[86,[13,11.6,9.6,8.4,7,6]],[86.3,[12.6,11.2,9.8,8.2,6.8]],[86.7,[13,11.3,10]],[86.9,[29.5,28,26.5,24.8]],[87.2,[26.8,25,24.3]],
	[87.9,[25.6,23.9,22.4]],[88.3,[25.4,23.4,22.2]],[88.9,[20,18.2,17.8]],[89.3,[19.4,18,16.5]],
	[89.8,[15.4,13.6,12,11]],[90.2,[15,13.2,11.8]],[90.5,[16.5,14.6,13,12]],[90.8,[17,15,13.6,12.6]],[91.2,[18,16.8,15.2,14]],[91.5,[17.5,16,14.8,13.5]],[91.7,[21.5,20.5,18.8,17.5,15.4]],
	[92.1,[26,24,23.5,21.4,20.4]],[92.4,[25.4,24.2,22]],[92.8,[43.5,41.6,39.6,37.5,36]],[93.2,[43.7,41,39.9,38,36.4]],[93.5,[34.5,33,31,30.5]],[93.9,[34.6,33.2,32.6,31.2]],
	[94.3,[47.2,45.5,43.5,41.5,39,36.3]],[94.7,[47.6,46,44.2,42,39.5,36.8,34.6]],[95.2,[35.8,34.4,32.7]],[95.6,[36,34.6,33,31]],
	[96.2,[39.5,37.2,35,32.6,30.3]],[96.6,[40,37.8,35.4,32.8,30.6,28.8]],[97.3,[25,23.4,21.8,20.2]],[97.7,[24.7,23.2,21.6]],
	[99.1,[39,36.4,34.2,33]],[99.5,[39.4,36.8,34.8,31.4]],
	[100.1,[25.4,23,20.6,18.4,14.2]],[100.5,[25.3,21.2,17.7,15.4,13.6]],[101.1,[18,16.4,14.8]],[101.5,[18.3,16.6,15,14.2]],[102,[16,14.4,13.3]],[102.4,[15.8,14.6,13.3]],
	[102.9,[19.2,17.2,16.2,15]],[103.3,[19.4,16.9,15.5,8.4]],[104,[30.4,28.4,26.4]],[104.4,[30.6,27.5,25.2,23.5]],
	[104.9,[35.5,33.8,31.8,30.4]],[105.3,[44.8,42.8,36.4,34.6,32.5]],
	[106,[15.8,13.6,11.8]],[106.4,[15.2,13,11.8,9.7]],[106.8,[25,22.2,20.5,18.4]],[107.2,[24,21.6,19.8,18.2,16.8]],
	[107.8,[35.2,33.6,32.4,30.8]],[108.2,[34.9,33.4,32,30.4]],[108.5,[37,35.5,33.2,31.4,29.5]],[108.9,[37.5,34.9,33.1,31,28.8]],
	[109.7,[33.5,31.4,29,27,25,20.4,18.2]],[110.1,[33.8,31,28.6,26.6,20,18.6,17]],[110.5,[26,22,20.4,18.2,17]],[110.9,[23.4,21,18.8]],
	[111.5,[32.2,30.6,28.6,25.5,23.4]],[111.9,[32.4,30.4,28.5,25.2,23.2,22.2]],[112.4,[30,27.6,25.5,23.5]],[112.8,[29.6,27,25,23]],
	[113.4,[26.4,24,22,18.2,16.4]],[113.8,[25.6,23.2,21.4,18,16.5,15.2]],
	[116.2,[19.8,18,16,14,12.4]],[116.6,[19.2,17.8,16.4,14.4,12.6]],[117.1,[9.7,8.4]],[118.9,[24.8,20.8,18,16.2,15]],[119.3,[24.2,20.2,17.5,15.6,14.1]],
	[120.8,[13.2,12.1]],[121.2,[13.4,12.6]],[121.8,[22.1,21.1,20.2]],[122.2,[22.2,21.2,20.2]],[123.9,[8.2,6.4]],[124.3,[8,6.8,5.6]]
];

// +-1 sigma envelope
var bandDays = [-0.4,1.2,1.6,2.4,3,3.4,4.2,8.3,21.3,23,23.3,24,24.5,29,30,31,32,32.6,33,33.6,34.6,37,38,38.2,38.4,42.2,42.5,43.8,44.8,47.7,48.2,50,50.8,52,55,56.5,57.5,58,60.4,61,62,62.3,63,65.5,66,66.7,67.7,68.7,70.5,71.8,72.7,73.4,73.6,78.5,79.5,81.2,82.2,84.3,86,87,88.1,89,90,91.5,92.7,94.5,95.5,96.4,97.5,99.3,100.3,102,103,104.5,105.2,106.2,107,108.7,109.9,111.8,113.6,116.4,117.4,119,121,122,123,124.1];
var bandLow = [17,20,20.4,7.7,9.5,6.4,10,25,19.4,20.7,18.2,8.2,8.8,10.2,12.8,16.6,9.3,22.3,38.2,29.3,22.3,22,19.1,24.2,23,29,29.3,14,26.7,21.7,21,19.7,10.9,13.4,19.7,21,21.7,25,22.6,22.6,22.6,15,18,23.9,29.9,10,8.6,6.4,23.6,24.8,26.1,9.6,13,12,9.6,19.1,7.6,0.6,4.2,21,20,15.9,8.8,12.4,26,26.7,25.5,24.8,19,28.6,11.5,12.4,1.3,23.5,29.9,8,15.9,24.8,14.7,19.7,12.4,9.6,6.4,14,12.4,17.2,9.9,3.2];
var bandHigh = [30.2,28,28.8,19.7,15.5,17.2,16,29.2,23.7,29.5,23.6,12.1,12.4,16.9,21.7,26.7,21.7,43.9,48.5,37.5,29.9,26.1,26.7,43.6,26,32.8,41.5,27.4,37.2,29.3,29,28.6,19.7,22.3,26.1,34.3,40.4,39,38,29,29.7,29.7,24,27.4,45.1,22,12.8,13.4,40.1,38.8,39.4,18.8,17,17.7,15.9,27.4,14.7,5.8,13.7,34.3,27.4,21,17.2,19.7,48,51.6,38.8,40.7,27.4,43.4,26.7,19.7,20.4,37.5,55.8,19.1,37.2,41.3,35.6,35.6,30,21,15.3,27,19,25.1,16,10.2];

// Daily mean wind speed
var windMeanDays = [-1,1,2,3,8,21,23,24,29,30,31,32,34,37,38,42,43,44,48,50,51,55,57,60,62,66,67,68,70,71,72,73,78,79,81,82,83,84,86,87,89,90,91,92,93,94,95,96,98,99,100,101,102,103,104,105,106,107,108,109,110,111,112,113,116,117,118,120,121,123,124];
var windMeanValues = [24.3,23.7,13.1,11.2,27.2,21.5,22.4,9.8,16.8,21.5,16.6,41.5,26.6,23.4,32.6,35.6,21.5,31.8,24.2,22.7,15.4,23.9,32.4,32,22.3,34.5,11.7,11,30.5,33.1,30,15.1,14.7,12.8,20.3,11.2,5.9,2.9,12.8,25,14.9,16.6,19.7,39,33.8,37.7,31.8,29,20.3,33.8,18.8,16.4,16.3,18.8,28.8,29.8,17.8,32,31.2,23.6,21.5,28.8,27.9,19.1,15.5,11.2,21.1,13.6,20,9.4,7];

// Latitude against time as [day, deg]
var latPoints = [
	[-0.43,41.8],[-0.43,40.3],[1.56,40.8],[2.34,41.6],[3.38,46.5],[8.15,39.9],[21.2,53.5],[23,47.1],[24,51],
	[29,45.7],[29.6,46.1],[30.2,46.7],[30.9,47.7],[31.6,49.4],[32.4,50.4],[33,50.4],[33.5,43.2],[34.3,50.6],[34.5,53],
	[37.3,48.5],[37.4,46.7],[38.2,50.6],[42.8,53.4],[42.8,51],[43.7,37.1],[44.6,51],[44.6,49],[44.6,47.1],
	[48.2,57.8],[50.1,45.5],[50.8,47.1],[51.1,48.3],[52,58.8],[52,56.5],[55.8,63.9],[56.6,51],[57.7,58.4],[57.6,56.5],[57.5,54.9],
	[60.2,64.1],[62.1,55.9],[62.1,53.9],[65.7,56.9],[65.9,53.9],[66.7,53],[66.5,50],[67.6,61.8],[68.6,66.5],[70.7,59.4],
	[71.5,51.4],[71.8,48.1],[72.2,46.1],[72.6,44.2],[72.7,48.7],[73.5,61.8],[73.5,59.4],[78.2,71.5],[79.4,63.3],
	[81.1,49.8],[82,49.4],[83.1,53],[84.2,54.1],[85.9,48.5],[86.6,46.5],[87.1,45.1],[87.7,47.1],[88.3,49],[89,53],[89.9,53.5],[89.4,53.9],
	[90.7,44.2],[90.9,42.2],[91.1,40.3],[91.8,35.4],[92.9,35.4],[93.6,30.5],[94.4,38.3],[94.6,33.4],[95.5,29.1],[96.4,34.4],[97.4,31.1],[98.4,30.9],
	[99.1,34.4],[99.9,33.8],[100.6,35.4],[101.3,36.5],[102,35],[102.9,32.4],[103.5,29.5],[103.9,27.5],[104.2,31.5],[105,36.7],
	[105.9,26.6],[106.9,23.6],[107.7,29.9],[108.7,26.6],[108.8,28.5],[109.6,35.4],[110.2,37.9],[110.9,38.9],[111.7,42.2],
	[112.6,54.5],[112.7,57.5],[113.4,62],[116.3,47.7],[117,47.1],[118.2,45.5],[119.2,44.2],[121,47.5],[121.9,37.3],[123,46.1],[124,52]
];
var latPointsDense = [
	[-0.43,41],[1.3,40.6],[1.8,40.7],[2.1,41],[3.2,46.2],[29.3,45.9],[29.9,46.4],[30.5,47.2],[31.2,48.6],[32,50],[32.7,50.6],[34.4,51.8],
	[37.35,47.6],[37.8,49.5],[38.4,51],[42.8,52.2],[43.7,37.3],[44.6,50],[44.6,48],[48.1,57],[48.3,56.8],[50.4,46],[51,47.7],[52,57.6],
	[55.8,63.5],[56.6,50],[56.5,52],[57.6,57.5],[57.5,55.5],[60.2,63.5],[62.1,54.9],[65.7,55.5],[65.8,54.8],[66.6,52],[66.6,51],[67.6,61],
	[68.6,66],[70.7,58.6],[71.6,50],[71.7,49],[72,47],[72.4,45],[72.7,47.5],[72.6,46],[73.5,60.6],[78.2,71],[79.4,62.8],[81.5,49.4],[81.7,49],
	[82.6,51],[83.6,53.6],[86.2,47.5],[86.9,45.8],[87.4,46],[88,48],[88.6,50.5],[88.9,52],[89.5,52.5],[90,52],[90.8,43],[91,41.2],[91.5,37.5],
	[92.3,35.8],[92.5,34.5],[93.2,33],[93.4,32],[94.3,36.5],[94.5,35],[95,32.5],[95.4,30],[96.6,33.5],[97.4,30.5],[99.5,34.2],[100.3,34.6],
	[101,36],[101.7,35.8],[102.4,34],[103.2,31],[103.7,28.5],[104,30],[105.9,25.5],[106.4,25],[106.5,26],[107,24.5],[107.7,28.8],[108.4,28],
	[108.7,27.5],[109.4,33.5],[109.8,36],[110.5,38.4],[111.5,41],[112.6,55.5],[116.6,47.9],[116.5,47],[117.6,46.5],[118.7,44.9],[121.9,37.9],
	[124,51.4],[113.4,61.5]
];

// Balloon altitude columns as [day, [m ...]]
var altColumns = [
	[-0.5,[13530,13490]],[1.5,[13652,13603,13555,13505]],[2.5,[13600,13530,13457]],[3.5,[13530,13480]],[8.2,[13785,13750]],
	[21.5,[13430]],[23.2,[13344,13285]],[24.1,[13440,13390]],[29,[13490,13440]],[30,[13570,13520]],[31,[13640,13595]],
	[32,[13765,13700]],[32.8,[13860,13825]],[33.7,[13930,13880,13850]],[34.7,[13765,13700]],[37.3,[13480,13430]],
	[38.2,[13770,13690,13620,13540,13480,13410,13345,13210]],[43.7,[13725,13680,13630]],[44.6,[13430,13358,13285,13210,13137]],
	[48.3,[13680,13630]],[50,[13680,13600,13530]],[51.3,[13480,13410]],[52.2,[13505,13455]],[55.8,[13065,12980]],
	[56.7,[13260,13185]],[57.7,[13310,13210]],[60.1,[13480,13430]],[62.1,[13335,13285]],[65.9,[13530,13470]],
	[66.8,[13400,13335,13260]],[67.6,[13160,13090]],[68.8,[13400]],[70.8,[13455,13380]],[71.7,[13875,13800,13725]],
	[72.6,[13700,13630,13555]],[73.5,[13530]],[78.4,[13455]],[79.4,[13540]],[81.1,[13725]],[82.1,[13785,13735]],
	[83.1,[13650,13610]],[84.3,[13615]],[86,[13700,13650]],[87.2,[13775,13690]],[88.3,[13775,13715]],[89.2,[13880,13815]],
	[89.8,[14120,14070]],[90.7,[14315,14240]],[91.9,[14265,14190,14110]],[93,[14535,14460]],[94,[14535,14450]],
	[95,[14580,14510,14435]],[95.9,[14535,14435]],[96.4,[14485,14390]],[97.5,[14755,14680,14610]],[98.4,[14655,14585]],
	[99.5,[14630,14535,14470]],[100.4,[14610,14535]],[101.5,[14610,14535]],[102.5,[14610,14535]],
	[103.2,[14079,13741,13373,13035,12756,12506,12227,11815,11330,10962]],[104.2,[14755,14680]],[105.2,[14902,14804]],
	[106.2,[15074,15000,14926]],[107,[14926,14828,14730]],[108,[14730,14667]],[109,[14780,14706,14608]],[110,[14780,14706]],
	[110.7,[14780,14706,14632]],[111.8,[14510,14436,14388]],[112.7,[14118,14054]],[113.5,[14030,13961,13873]],
	[116.4,[14045,13970]],[117.3,[14216]],[118.1,[14314]],[118.6,[14152]],[119.3,[14226,14143]],[119.5,[14005]],
	[122,[14167]],[124,[14045,13980]]
];
var altColumnsDense = [
	[-0.3,[13510]],[1.3,[13630,13580]],[1.7,[13640,13590,13530]],[2.3,[13610,13560,13500]],[2.7,[13570,13500,13440]],[3.3,[13510]],[3.7,[13510,13470]],[8,[13770]],[8.4,[13770,13735]],
	[23,[13320]],[23.4,[13300]],[24,[13420]],[28.8,[13470]],[29.2,[13480,13430]],[29.8,[13550]],[30.2,[13555,13510]],[30.8,[13620]],[31.2,[13630,13580]],[31.8,[13740,13680]],[32.2,[13750,13690]],[32.6,[13850]],[33,[13890,13850]],[33.5,[13920,13860]],[33.9,[13915,13870,13840]],[34.5,[13740]],[34.9,[13750,13680]],[37.1,[13450]],[37.5,[13470,13410]],[38,[13500,13450,13510]],[38.4,[13520,13460,13500]],
	[43.5,[13700,13650]],[43.9,[13740,13700,13650]],[44.4,[13395,13320,13250,13170]],[44.8,[13400,13320,13240,13170]],[48.1,[13660]],[48.5,[13660,13610]],[49.8,[13640,13570]],[50.2,[13650,13570,13500]],[51.1,[13450]],[51.5,[13450,13400]],[52,[13480]],[52.4,[13490,13440]],[55.6,[13030]],[56,[13040,12990]],[56.5,[13225]],[56.9,[13230,13170]],[57.5,[13270,13200]],[57.9,[13280,13200]],[59.9,[13450]],[60.3,[13450,13420]],[61.9,[13310]],[62.3,[13310,13270]],[65.7,[13500]],[66.1,[13510,13460]],[66.6,[13370,13300]],[67,[13370,13290]],[67.4,[13140,13080]],[67.8,[13130,13080,13110]],[70.6,[13420]],[71,[13430,13370]],[71.5,[13840,13760]],[71.9,[13840,13770,13700]],[72.4,[13670,13590]],[72.8,[13670,13600,13540]],
	[81.3,[13710]],[81.9,[13760,13710]],[82.3,[13760,13710]],[82.9,[13630]],[83.3,[13630,13590]],[84.1,[13620]],[85.8,[13680]],[86.2,[13680,13640]],[86.8,[13700,13650]],[87,[13740,13670]],[87.6,[13740,13680]],[88,[13760,13700]],[88.6,[13790,13720,13680]],[89,[13860,13800]],[89.5,[14100,14040,13900]],[90,[14100,14050]],[90.4,[14290,14220,14150]],[91,[14280,14210]],[91.6,[14240,14160,14090]],[92.2,[14240,14160,14090]],[92.6,[14470,14430]],[93.4,[14510,14440]],[93.7,[14520,14460]],[94.4,[14520,14440]],[94.7,[14560,14470]],[95.3,[14560,14480,14420]],[96,[14470,14400]],[96.8,[14450,14380]],[97.2,[14730,14650]],[97.8,[14730,14650,14590]],[98.7,[14640,14570]],[99.2,[14610,14510]],[99.8,[14610,14510,14450]],[100.1,[14590,14520]],[100.8,[14590,14510]],[101.2,[14590,14520,14470]],[101.8,[14590,14520]],[102.2,[14590,14520]],[102.8,[14590,14520]],[104,[14730,14660]],[104.5,[14730,14650]],[105,[14880,14780]],[105.5,[14880,14790]],[105.9,[15030,14960,14890]],[106.4,[15050,14970,14900]],[106.8,[14900,14800,14700]],[107.3,[14900,14800,14710]],[107.8,[14710,14650]],[108.3,[14710,14650]],[108.7,[14760,14690,14620]],[109.3,[14750,14680,14590]],[109.8,[14760,14690,14620]],[110.3,[14760,14680,14610]],[111,[14760,14680,14610]],[111.5,[14490,14420,14370]],[112,[14490,14420,14370]],[112.5,[14100,14040]],[112.9,[14100,14030]],[113.3,[14010,13940,13870]],[113.7,[14010,13940,13890]],[116.2,[14030,13960]],[116.6,[14030,13970]],[117.5,[14200,14170]],[119.1,[14210,14130]],[121.8,[14150]],[122.2,[14170]],[123.8,[14030,13990]],[124.2,[14030,13970]]
];
var altMeanDays = [-1,1,3,8,21,23,24,29,30,31,32,33,34,37,38,42,43,44,48,50,51,52,55,56,58,60,62,65,67,68,70,71,72,73,78,81,82,83,84,86,88,89,90,91,92,93,94,95,96,97,98,99,100,101,102,103,104,105,106,107,108,109,110,111,112,113,116,117,118,119,121,123,124];
var altMeanValues = [13520,13618,13505,13765,13442,13334,13442,13520,13600,13765,13850,13900,13750,13476,13550,13564,13670,13265,13677,13564,13460,13480,13020,13245,13324,13466,13324,13510,13118,13400,13427,13824,13677,13540,13450,13746,13726,13648,13648,13700,13814,14070,14245,14190,14450,14495,14535,14490,14500,14677,14667,14608,14598,14505,14574,14142,14755,14912,14941,14730,14730,14765,14740,14583,14108,13995,14040,14240,14240,14167,14177,14030,14035];

// Histogram counts, 5 m/s bins
var binStarts = [-30,-25,-20,-15,-10,-5,0,5,10,15,20,25,30,35,40,45];
var uCounts = [0,0,0,0,54,106,44,74,323,360,481,258,240,65,47,10];
var vCounts = [23,93,120,93,331,287,352,252,258,149,58,42,0,0,0,0];

// Panel boxes
var LEFT_X = 83.3, RIGHT_X = 862.3, PANEL_W = 705.3, PANEL_H = 307;
var ROW1_Y = 31.6, ROW2_Y = 420, ROW3_Y = 808.3;

var svg = d3.select("#chart");
var defs = svg.append("defs");
var clipCount = 0;

var RED = "#c0392b";
var TEAL = "#7f8c8d";
var NAVY = "#2c3e50";
var TITLE_BLUE = "#1a5276";

function dayDate(d) { return new Date(Date.UTC(2026, 1, 1) + d * 864e5); }

// Frame of one panel: group with clip, title, returns the handles
function makePanel(x, y, title)
{
	var g = svg.append("g").attr("transform", "translate(" + x + "," + y + ")");
	var id = "clip" + (clipCount++);
	defs.append("clipPath").attr("id", id).append("rect").attr("width", PANEL_W).attr("height", PANEL_H);
	var under = g.append("g");
	var grid = g.append("g");
	var marks = g.append("g").attr("clip-path", "url(#" + id + ")");
	g.append("text")
		.attr("x", PANEL_W / 2)
		.attr("y", -8.5)
		.attr("text-anchor", "middle")
		.attr("font-size", "16.67px")
		.text(title);
	return { g: g, under: under, grid: grid, marks: marks };
}

function drawAxes(p, xAxis, yAxis, xIsDate)
{
	var ax = p.g.append("g").attr("transform", "translate(0," + PANEL_H + ")").call(xAxis);
	var ay = p.g.append("g").call(yAxis);
	[ax, ay].forEach(function(a) {
		a.attr("font-family", null).attr("font-size", null);
		a.select(".domain").remove();
		a.selectAll("text").attr("font-size", "13.9px").style("fill", "#000");
		a.selectAll("line").attr("stroke", "#000").attr("stroke-width", 1.1);
	});
	ax.selectAll("text").attr("dy", null).attr("y", 19).attr("dominant-baseline", "auto");
	ay.selectAll("text").attr("dy", "0.34em").attr("x", -8);
	if( xIsDate )
	{
		ax.selectAll("text")
			.attr("text-anchor", "middle")
			.attr("y", null)
			.attr("dy", "0.35em")
			.attr("transform", "translate(-1,24.5) rotate(-20)");
	}
	// the box on all four sides
	p.g.append("rect")
		.attr("width", PANEL_W)
		.attr("height", PANEL_H)
		.attr("fill", "none")
		.attr("stroke", "#000")
		.attr("stroke-width", 1.1);
}

function drawGrid(p, xs, xScale, ys, yScale, color, dash)
{
	p.grid.selectAll(".gx").data(xs).enter().append("line")
		.attr("x1", function(d) { return xScale(d); })
		.attr("x2", function(d) { return xScale(d); })
		.attr("y1", 0).attr("y2", PANEL_H);
	p.grid.selectAll(".gy").data(ys).enter().append("line")
		.attr("y1", function(d) { return yScale(d); })
		.attr("y2", function(d) { return yScale(d); })
		.attr("x1", 0).attr("x2", PANEL_W);
	p.grid.selectAll("line")
		.attr("stroke", color)
		.attr("stroke-width", 1.1)
		.attr("stroke-dasharray", dash);
}

function yLabel(x, cy, str, isWind)
{
	var t = svg.append("text")
		.attr("transform", "translate(" + x + "," + cy + ") rotate(-90)")
		.attr("text-anchor", "middle")
		.attr("dominant-baseline", "central")
		.attr("font-size", "13.9px");
	if( isWind ) windLabel(t); else t.text(str);
}

function xLabel(cx, y, str, isWind)
{
	var t = svg.append("text")
		.attr("x", cx)
		.attr("y", y)
		.attr("text-anchor", "middle")
		.attr("font-size", "13.9px");
	if( isWind ) windLabel(t); else t.text(str);
}

function windLabel(t)
{
	t.append("tspan").text("Wind speed (m s");
	t.append("tspan").attr("dy", "-0.4em").attr("font-size", "9.7px").text("\u22121");
	t.append("tspan").attr("dy", "0.4em").text(")");
}

function legendBox(x, y, w, h)
{
	svg.append("rect")
		.attr("x", x).attr("y", y).attr("width", w).attr("height", h)
		.attr("rx", 3)
		.attr("fill", "#fff").attr("fill-opacity", 0.8)
		.attr("stroke", "#ccc").attr("stroke-width", 1);
}

function legendText(x, y, str)
{
	svg.append("text")
		.attr("x", x).attr("y", y)
		.attr("dominant-baseline", "central")
		.attr("font-size", "11.1px")
		.text(str);
}

// Date scale of the wind and altitude panels
var timeX = d3.scaleUtc().domain([dayDate(-7.3), dayDate(130.45)]).range([0, PANEL_W]);
// The latitude panel has its own margins
var timeXLat = d3.scaleUtc().domain([dayDate(-6.58), dayDate(130.3)]).range([0, PANEL_W]);
var tickDates = dateTicks.map(function(s) { return new Date(s + "T00:00:00Z"); });
var fmtDate = d3.utcFormat("%y-%m-%d");

function dateAxis(scale)
{
	return d3.axisBottom(scale).tickValues(tickDates).tickFormat(fmtDate).tickSize(4.9).tickPadding(3);
}

/* ---- Flight Track ---- */
var mapX = d3.scaleLinear().domain([-180, 180]).range([0, PANEL_W]);
var mapY = d3.scaleLinear().domain([-90, 90]).range([PANEL_H, 0]);
var lonTicks = d3.range(-180, 181, 60);
var latTicks = d3.range(-90, 91, 30);
var mapLine = d3.line().x(function(d) { return mapX(d[0]); }).y(function(d) { return mapY(d[1]); });

var pMap = makePanel(LEFT_X, ROW1_Y, "Flight Track");
pMap.under.append("rect").attr("width", PANEL_W).attr("height", PANEL_H).attr("fill", "#d4e6f1");
pMap.marks.append("g").selectAll("path").data(landRings).enter().append("path")
	.attr("d", function(d) { return mapLine(d) + "Z"; })
	.attr("fill", "#e8e8e4")
	.attr("stroke", "#c3c9cc")
	.attr("stroke-width", 0.9);
pMap.marks.append("g").selectAll("path").data(borderLines).enter().append("path")
	.attr("d", mapLine)
	.attr("fill", "none")
	.attr("stroke", "#d9d9d6")
	.attr("stroke-width", 0.8);
pMap.marks.append("g").selectAll("path").data(waterRings).enter().append("path")
	.attr("d", function(d) { return mapLine(d) + "Z"; })
	.attr("fill", "#d4e6f1")
	.attr("stroke", "#c3c9cc")
	.attr("stroke-width", 0.7);
var mapGrid = pMap.marks.append("g");
lonTicks.forEach(function(d) {
	mapGrid.append("line").attr("x1", mapX(d)).attr("x2", mapX(d)).attr("y1", 0).attr("y2", PANEL_H);
});
latTicks.forEach(function(d) {
	mapGrid.append("line").attr("y1", mapY(d)).attr("y2", mapY(d)).attr("x1", 0).attr("x2", PANEL_W);
});
mapGrid.selectAll("line").attr("stroke", "#bcc4c8").attr("stroke-width", 0.7).attr("stroke-dasharray", "2.5,1.5");

pMap.marks.append("g").selectAll("circle").data(trackPoints).enter().append("circle")
	.attr("cx", function(d) { return mapX(d[0]); })
	.attr("cy", function(d) { return mapY(d[1]); })
	.attr("r", 2.9)
	.attr("fill", RED);
pMap.marks.append("circle")
	.attr("cx", mapX(launchFix[0]))
	.attr("cy", mapY(launchFix[1]))
	.attr("r", 8)
	.attr("fill", "#27ae60")
	.attr("stroke", "#000")
	.attr("stroke-width", 1.4);
var starPath = d3.symbol().type(d3.symbolStar).size(145)();
pMap.marks.append("path")
	.attr("d", starPath)
	.attr("transform", "translate(" + mapX(lastFix[0]) + "," + mapY(lastFix[1]) + ")")
	.attr("fill", "#1f77b4")
	.attr("stroke", "#000")
	.attr("stroke-width", 1.4);
drawAxes(pMap,
	d3.axisBottom(mapX).tickValues(lonTicks).tickSize(4.9).tickPadding(3),
	d3.axisLeft(mapY).tickValues(latTicks).tickSize(4.9));
xLabel(LEFT_X + PANEL_W / 2, 378, "Longitude (deg)");
yLabel(30.5, ROW1_Y + PANEL_H / 2, "Latitude (deg)");

legendBox(89.7, 284, 79, 48.5);
svg.append("circle").attr("cx", 104.4).attr("cy", 292.3).attr("r", 1.8).attr("fill", RED);
svg.append("circle").attr("cx", 104.4).attr("cy", 308.3).attr("r", 8).attr("fill", "#27ae60").attr("stroke", "#000").attr("stroke-width", 1.4);
svg.append("path").attr("d", starPath).attr("transform", "translate(104.4,323)").attr("fill", "#1f77b4").attr("stroke", "#000").attr("stroke-width", 1.4);
legendText(124.2, 292.3, "Track");
legendText(125, 308.3, "Launch");
legendText(124.2, 323.3, "Last fix");

/* ---- Summary text ---- */
var textCx = RIGHT_X + PANEL_W / 2;
function summaryText(y, size, color, str)
{
	svg.append("text")
		.attr("x", textCx)
		.attr("y", y)
		.attr("text-anchor", "middle")
		.attr("dominant-baseline", "central")
		.attr("font-size", size)
		.style("fill", color)
		.text(str);
}
summaryText(50.5, "22.2px", TITLE_BLUE, "Pico Balloon Archive");
summaryText(73.5, "19.45px", "#000", "Callsign: KC3LBR-522   (WSPR)");
var summaryY = [94.5, 117.5, 140.5, 163.5, 186.5, 209.5, 232.5];
summaryLines.forEach(function(s, i) { summaryText(summaryY[i], "15.3px", "#000", s); });
summaryText(256.8, "18px", TITLE_BLUE, "Data quality score: 0.861");
summaryText(277.8, "12.5px", "#555", "precision=0.90   cadence=1.00   agreement=1.00   stability=0.98   coverage=0.47");

/* ---- Wind Speed vs. Time ---- */
var windY = d3.scaleLinear().domain([0, 58.48]).range([PANEL_H, 0]);
var windTicks = d3.range(0, 51, 10);
var pWind = makePanel(LEFT_X, ROW2_Y, "Wind Speed vs. Time");
drawGrid(pWind, tickDates, timeX, windTicks, windY, "#e3e3e3");
pWind.marks.append("path")
	.attr("d", d3.area()
		.x(function(d) { return timeX(dayDate(d)); })
		.y0(function(d, i) { return windY(bandLow[i]); })
		.y1(function(d, i) { return windY(bandHigh[i]); })(bandDays))
	.attr("fill", TEAL)
	.attr("fill-opacity", 0.35);
windColumns.concat(windColumnsDense).forEach(function(col) {
	pWind.marks.append("g").selectAll("circle").data(col[1]).enter().append("circle")
		.attr("cx", timeX(dayDate(col[0])))
		.attr("cy", function(v) { return windY(v); })
		.attr("r", 1.95)
		.attr("fill", NAVY);
});
pWind.marks.append("path")
	.attr("d", d3.line()
		.x(function(d) { return timeX(dayDate(d)); })
		.y(function(d, i) { return windY(windMeanValues[i]); })(windMeanDays))
	.attr("fill", "none")
	.attr("stroke", RED)
	.attr("stroke-width", 1.6);
drawAxes(pWind, dateAxis(timeX), d3.axisLeft(windY).tickValues(windTicks).tickSize(4.9), true);
yLabel(37.5, ROW2_Y + PANEL_H / 2, "", true);

legendBox(89.3, 425.7, 162.4, 49.3);
svg.append("rect").attr("x", 93.3).attr("y", 430).attr("width", 23.4).attr("height", 9.3).attr("fill", TEAL).attr("fill-opacity", 0.35);
svg.append("circle").attr("cx", 104.3).attr("cy", 450).attr("r", 1.9).attr("fill", NAVY);
svg.append("line").attr("x1", 92.7).attr("x2", 116.7).attr("y1", 464.7).attr("y2", 464.7).attr("stroke", RED).attr("stroke-width", 1.6);
legendText(124.3, 435.3, "\u00b11\u03c3 propagated error");
legendText(124.3, 450.3, "Wind speed");
legendText(124.3, 466, "Daily mean");

/* ---- Latitude vs. Time ---- */
var latY = d3.scaleLinear().domain([-90, 90]).range([PANEL_H, 0]);
var pLat = makePanel(RIGHT_X, ROW2_Y, "Latitude vs. Time");
drawGrid(pLat, tickDates, timeXLat, latTicks, latY, "#e3e3e3");
pLat.marks.append("g").selectAll("circle").data(latPoints.concat(latPointsDense)).enter().append("circle")
	.attr("cx", function(d) { return timeXLat(dayDate(d[0])); })
	.attr("cy", function(d) { return latY(d[1]); })
	.attr("r", 2.6)
	.attr("fill", "#000");
drawAxes(pLat, dateAxis(timeXLat), d3.axisLeft(latY).tickValues(latTicks).tickSize(4.9), true);
yLabel(809, ROW2_Y + PANEL_H / 2, "Latitude (deg)");

/* ---- Balloon Altitude vs. Time ---- */
var altY = d3.scaleLinear().domain([10750, 15265]).range([PANEL_H, 0]);
var altTicks = d3.range(11000, 15001, 1000);
var pAlt = makePanel(LEFT_X, ROW3_Y, "Balloon Altitude vs. Time");
drawGrid(pAlt, tickDates, timeX, altTicks, altY, "#e3e3e3");
altColumns.concat(altColumnsDense).forEach(function(col) {
	pAlt.marks.append("g").selectAll("circle").data(col[1]).enter().append("circle")
		.attr("cx", timeX(dayDate(col[0])))
		.attr("cy", function(v) { return altY(v); })
		.attr("r", 1.9)
		.attr("fill", TEAL);
});
pAlt.marks.append("path")
	.attr("d", d3.line()
		.x(function(d) { return timeX(dayDate(d)); })
		.y(function(d, i) { return altY(altMeanValues[i]); })(altMeanDays))
	.attr("fill", "none")
	.attr("stroke", RED)
	.attr("stroke-width", 1.6);
drawAxes(pAlt, dateAxis(timeX), d3.axisLeft(altY).tickValues(altTicks).tickSize(4.9).tickFormat(d3.format("d")), true);
xLabel(LEFT_X + PANEL_W / 2, 1177, "UTC date");
yLabel(16.5, ROW3_Y + PANEL_H / 2, "Altitude (m AMSL)");

/* ---- U and V Wind Components ---- */
var histX = d3.scaleLinear().domain([-100, 100]).range([0, PANEL_W]);
var histY = d3.scaleLinear().domain([0, 505]).range([PANEL_H, 0]);
var histXTicks = d3.range(-100, 101, 25);
var histYTicks = d3.range(0, 501, 100);
var pHist = makePanel(RIGHT_X, ROW3_Y, "U and V Wind Components");
drawGrid(pHist, histXTicks, histX, histYTicks, histY, "#e3e3e3");

function drawBars(counts, color)
{
	pHist.marks.append("g").selectAll("rect").data(binStarts).enter()
		.filter(function(d, i) { return counts[i] > 0; })
		.append("rect")
		.attr("x", function(d) { return histX(d); })
		.attr("width", function(d) { return histX(d + 5) - histX(d); })
		.attr("y", function(d) { return histY(counts[binStarts.indexOf(d)]); })
		.attr("height", function(d) { return PANEL_H - histY(counts[binStarts.indexOf(d)]); })
		.attr("fill", color)
		.attr("fill-opacity", 0.65)
		.attr("stroke", "#000")
		.attr("stroke-opacity", 0.65)
		.attr("stroke-width", 1.1);
}
drawBars(uCounts, "#1f77b4");
drawBars(vCounts, "#ff7f0e");
drawAxes(pHist,
	d3.axisBottom(histX).tickValues(histXTicks).tickSize(4.9).tickPadding(3),
	d3.axisLeft(histY).tickValues(histYTicks).tickSize(4.9));
xLabel(RIGHT_X + PANEL_W / 2, 1160, "", true);
yLabel(813, ROW3_Y + PANEL_H / 2, "Frequency");

legendBox(1442.3, 814.3, 117, 34);
svg.append("rect").attr("x", 1446).attr("y", 819.3).attr("width", 22.7).attr("height", 7.4).attr("fill", "#1f77b4").attr("fill-opacity", 0.65).attr("stroke", "#000").attr("stroke-opacity", 0.65);
svg.append("rect").attr("x", 1446).attr("y", 834.5).attr("width", 22.7).attr("height", 7.4).attr("fill", "#ff7f0e").attr("fill-opacity", 0.65).attr("stroke", "#000").attr("stroke-opacity", 0.65);
legendText(1477.3, 823.6, "U (zonal)");
legendText(1477.3, 838.8, "V (meridional)");
</script>
</body>
</html>
